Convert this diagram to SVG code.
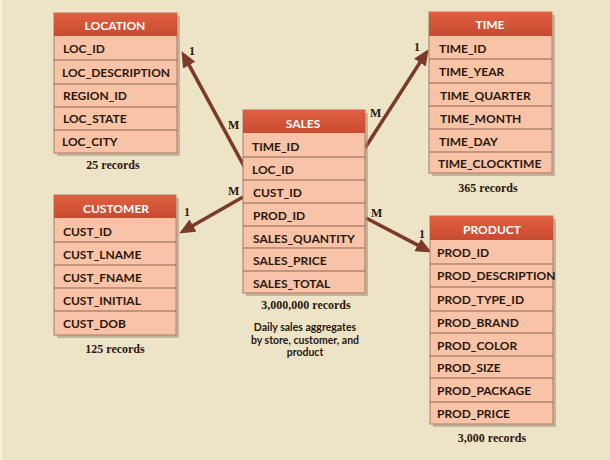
<svg xmlns="http://www.w3.org/2000/svg" width="610" height="460" viewBox="0 0 610 460">
<defs>
<linearGradient id="hdr" x1="0" y1="0" x2="0" y2="1"><stop offset="0" stop-color="#e0603f"/><stop offset="1" stop-color="#c84a31"/></linearGradient>
<marker id="ah" markerUnits="userSpaceOnUse" markerWidth="18" markerHeight="16" refX="5" refY="7" orient="auto"><path d="M0,0 L16,7 L0,14 z" fill="#7b3a2b"/></marker>
</defs>
<style>
.shadow{fill:#9c8f78;opacity:0.55}
.body{fill:#f8c3a6;stroke:#b07a62;stroke-width:1}
.hdr{fill:url(#hdr)}
.div{stroke:#8a6655;stroke-width:1.2}
.ht{font-family:Lato,"Open Sans",sans-serif;font-weight:700;font-size:12px;fill:#ffffff;text-anchor:middle}
.ft{font-family:Lato,"Open Sans",sans-serif;font-weight:700;font-size:12px;fill:#2a1810}
.rec{font-family:"Liberation Serif",serif;font-weight:700;font-size:12px;fill:#2a1810;text-anchor:middle}
.note{font-family:Lato,"Open Sans",sans-serif;font-weight:700;font-size:10.5px;fill:#2a1810;text-anchor:middle}
.card{font-family:"Liberation Serif",serif;font-weight:700;font-size:12px;fill:#2a1810}
.conn{stroke:#7b3a2b;stroke-width:3.6;fill:none;marker-end:url(#ah)}
</style>
<rect x="0" y="0" width="610" height="460" fill="#ede4c8"/>
<rect x="0" y="0" width="2" height="460" fill="#f6f0de"/>

<g id="connectors">
<path class="conn" d="M245,168 L186.8,60.8"/>
<path class="conn" d="M365,148 L422.6,58.4"/>
<path class="conn" d="M243,197 L188.7,228"/>
<path class="conn" d="M366,218 L422.1,247.4"/>
<text class="card" x="228" y="129">M</text>
<text class="card" x="189" y="55">1</text>
<text class="card" x="370" y="117">M</text>
<text class="card" x="414" y="51">1</text>
<text class="card" x="228" y="195">M</text>
<text class="card" x="184" y="216">1</text>
<text class="card" x="371" y="217">M</text>
<text class="card" x="419" y="238">1</text>
</g>

<g id="location">
<rect class="shadow" x="57" y="16" width="123" height="140"/>
<rect class="body" x="54" y="13" width="123" height="140"/>
<rect class="hdr" x="54" y="13" width="123" height="23"/>
<line class="div" x1="54" y1="60" x2="177" y2="60"/>
<line class="div" x1="54" y1="84" x2="177" y2="84"/>
<line class="div" x1="54" y1="107" x2="177" y2="107"/>
<line class="div" x1="54" y1="130" x2="177" y2="130"/>
<text class="ht" x="115" y="30">LOCATION</text>
<text class="ft" x="63" y="53">LOC_ID</text>
<text class="ft" x="62" y="77">LOC_DESCRIPTION</text>
<text class="ft" x="63" y="100">REGION_ID</text>
<text class="ft" x="63" y="123">LOC_STATE</text>
<text class="ft" x="62" y="146">LOC_CITY</text>
<text class="rec" x="113" y="169">25 records</text>
</g>

<g id="time">
<rect class="shadow" x="432" y="15" width="123" height="161"/>
<rect class="body" x="429" y="12" width="123" height="161"/>
<rect class="hdr" x="429" y="12" width="123" height="24"/>
<line class="div" x1="429" y1="59" x2="552" y2="59"/>
<line class="div" x1="429" y1="83" x2="552" y2="83"/>
<line class="div" x1="429" y1="106" x2="552" y2="106"/>
<line class="div" x1="429" y1="129" x2="552" y2="129"/>
<line class="div" x1="429" y1="152" x2="552" y2="152"/>
<text class="ht" x="490" y="29">TIME</text>
<text class="ft" x="439" y="53">TIME_ID</text>
<text class="ft" x="439" y="76">TIME_YEAR</text>
<text class="ft" x="440" y="100">TIME_QUARTER</text>
<text class="ft" x="440" y="123">TIME_MONTH</text>
<text class="ft" x="439" y="146">TIME_DAY</text>
<text class="ft" x="438" y="168">TIME_CLOCKTIME</text>
<text class="rec" x="488" y="192">365 records</text>
</g>

<g id="sales">
<rect class="shadow" x="246" y="113" width="122" height="183"/>
<rect class="body" x="243" y="110" width="122" height="183"/>
<rect class="hdr" x="243" y="110" width="122" height="23"/>
<line class="div" x1="243" y1="157" x2="365" y2="157"/>
<line class="div" x1="243" y1="180" x2="365" y2="180"/>
<line class="div" x1="243" y1="203" x2="365" y2="203"/>
<line class="div" x1="243" y1="226" x2="365" y2="226"/>
<line class="div" x1="243" y1="248" x2="365" y2="248"/>
<line class="div" x1="243" y1="271" x2="365" y2="271"/>
<text class="ht" x="303" y="128">SALES</text>
<text class="ft" x="252" y="151">TIME_ID</text>
<text class="ft" x="252" y="174">LOC_ID</text>
<text class="ft" x="253" y="197">CUST_ID</text>
<text class="ft" x="253" y="220">PROD_ID</text>
<text class="ft" x="253" y="243">SALES_QUANTITY</text>
<text class="ft" x="253" y="265">SALES_PRICE</text>
<text class="ft" x="253" y="288">SALES_TOTAL</text>
<text class="rec" x="306" y="309">3,000,000 records</text>
<text class="note" x="305" y="331">Daily sales aggregates</text>
<text class="note" x="305" y="343.5">by store, customer, and</text>
<text class="note" x="305" y="356">product</text>
</g>

<g id="customer">
<rect class="shadow" x="57" y="198" width="122" height="140"/>
<rect class="body" x="54" y="195" width="122" height="140"/>
<rect class="hdr" x="54" y="195" width="122" height="23"/>
<line class="div" x1="54" y1="242" x2="176" y2="242"/>
<line class="div" x1="54" y1="265" x2="176" y2="265"/>
<line class="div" x1="54" y1="288" x2="176" y2="288"/>
<line class="div" x1="54" y1="311" x2="176" y2="311"/>
<text class="ht" x="116" y="213">CUSTOMER</text>
<text class="ft" x="63" y="236">CUST_ID</text>
<text class="ft" x="63" y="259">CUST_LNAME</text>
<text class="ft" x="63" y="282">CUST_FNAME</text>
<text class="ft" x="63" y="305">CUST_INITIAL</text>
<text class="ft" x="63" y="328">CUST_DOB</text>
<text class="rec" x="115" y="353">125 records</text>
</g>

<g id="product">
<rect class="shadow" x="433" y="219" width="123" height="208"/>
<rect class="body" x="430" y="216" width="123" height="208"/>
<rect class="hdr" x="430" y="216" width="123" height="24"/>
<line class="div" x1="430" y1="264" x2="553" y2="264"/>
<line class="div" x1="430" y1="287" x2="553" y2="287"/>
<line class="div" x1="430" y1="311" x2="553" y2="311"/>
<line class="div" x1="430" y1="333" x2="553" y2="333"/>
<line class="div" x1="430" y1="356" x2="553" y2="356"/>
<line class="div" x1="430" y1="378" x2="553" y2="378"/>
<line class="div" x1="430" y1="402" x2="553" y2="402"/>
<text class="ht" x="492" y="234">PRODUCT</text>
<text class="ft" x="437" y="257">PROD_ID</text>
<text class="ft" x="437" y="280">PROD_DESCRIPTION</text>
<text class="ft" x="437" y="304">PROD_TYPE_ID</text>
<text class="ft" x="437" y="327">PROD_BRAND</text>
<text class="ft" x="437" y="350">PROD_COLOR</text>
<text class="ft" x="437" y="372">PROD_SIZE</text>
<text class="ft" x="437" y="395">PROD_PACKAGE</text>
<text class="ft" x="437" y="418">PROD_PRICE</text>
<text class="rec" x="492" y="442">3,000 records</text>
</g>
</svg>
